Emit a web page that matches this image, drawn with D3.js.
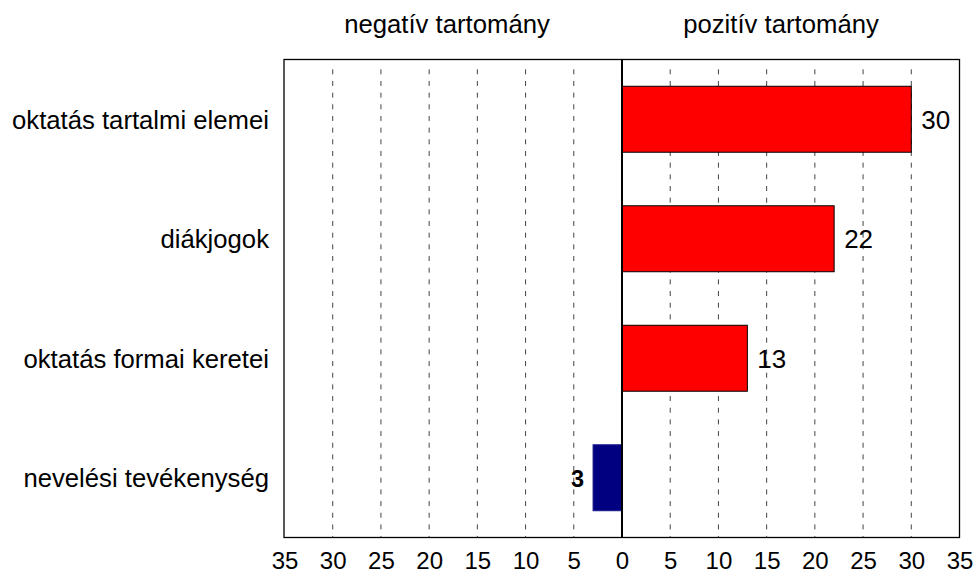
<!DOCTYPE html>
<html>
<head>
<meta charset="utf-8">
<script src="https://cdn.jsdelivr.net/npm/d3@7"></script>
<style>
  html, body { margin: 0; padding: 0; background: #fff; }
  svg { display: block; font-family: "Liberation Sans", Arial, sans-serif; }
</style>
</head>
<body>
<svg id="chart" width="976" height="574"></svg>
<script>
const categories = ["oktatás tartalmi elemei", "diákjogok", "oktatás formai keretei", "nevelési tevékenység"];
const values = [30, 22, 13, -3];
const tickValues = [-35, -30, -25, -20, -15, -10, -5, 0, 5, 10, 15, 20, 25, 30, 35];
const tickLabels = ["35", "30", "25", "20", "15", "10", "5", "0", "5", "10", "15", "20", "25", "30", "35"];
const gridValues = [-30, -25, -20, -15, -10, -5, 5, 10, 15, 20, 25, 30];
const headers = ["negatív tartomány", "pozitív tartomány"];

const svg = d3.select("#chart");
const L = 284, R = 959.5, T = 59.5, B = 537.5;

const x = d3.scaleLinear().domain([-35, 35]).range([L + 0.5, R]);
const y = d3.scaleBand().domain(categories).range([T, B]).paddingInner(0.448).paddingOuter(0.224);

// gridlines
svg.append("g").selectAll("line").data(gridValues).join("line")
  .attr("x1", d => x(d)).attr("x2", d => x(d))
  .attr("y1", T + 9.8).attr("y2", B)
  .attr("stroke", "#444").attr("stroke-width", 1)
  .attr("stroke-dasharray", "5 6.67");

// bars
svg.append("g").selectAll("rect").data(values).join("rect")
  .attr("x", d => x(Math.min(0, d)))
  .attr("width", d => Math.abs(x(d) - x(0)))
  .attr("y", (d, i) => y(categories[i]))
  .attr("height", y.bandwidth())
  .attr("fill", d => d >= 0 ? "#ff0000" : "#000080")
  .attr("stroke", d => d >= 0 ? "#000" : "#1a1a8c")
  .attr("stroke-width", 1);

// frame
svg.append("rect")
  .attr("x", L).attr("y", T).attr("width", R - L).attr("height", B - T)
  .attr("fill", "none").attr("stroke", "#000").attr("stroke-width", 1.3);

// zero line
svg.append("line")
  .attr("x1", x(0)).attr("x2", x(0)).attr("y1", T).attr("y2", B)
  .attr("stroke", "#000").attr("stroke-width", 2);

// x axis labels
const xAxis = d3.axisBottom(x).tickValues(tickValues)
  .tickFormat((d, i) => tickLabels[i]).tickSize(0).tickPadding(0);
const gx = svg.append("g").attr("transform", `translate(0,${B})`).call(xAxis);
gx.select(".domain").remove();
gx.selectAll("text").attr("font-size", 24).attr("fill", "#000")
  .attr("font-family", "'Liberation Sans', Arial, sans-serif")
  .attr("dy", null).attr("y", 31);

// category labels
const yAxis = d3.axisLeft(y).tickSize(0).tickPadding(0);
const gy = svg.append("g").attr("transform", `translate(${L - 15},0)`).call(yAxis);
gy.select(".domain").remove();
gy.selectAll("text").attr("font-size", 25.7).attr("fill", "#000")
  .attr("font-family", "'Liberation Sans', Arial, sans-serif")
  .attr("dy", "0.37em");

// value labels
svg.append("g").selectAll("text").data(values).join("text")
  .attr("x", d => d >= 0 ? x(d) + 10 : x(d) - 9)
  .attr("y", (d, i) => y(categories[i]) + y.bandwidth() / 2)
  .attr("dy", d => d >= 0 ? "0.36em" : "0.4em")
  .attr("text-anchor", d => d >= 0 ? "start" : "end")
  .attr("font-size", d => d >= 0 ? 26 : 23.5)
  .attr("font-weight", d => d >= 0 ? "normal" : "bold")
  .attr("fill", "#000")
  .text(d => Math.abs(d));

// headers
svg.append("g").selectAll("text").data(headers).join("text")
  .attr("x", (d, i) => i === 0 ? 447 : 781)
  .attr("y", 33)
  .attr("text-anchor", "middle")
  .attr("font-size", 25.7)
  .attr("fill", "#000")
  .text(d => d);
</script>
</body>
</html>
